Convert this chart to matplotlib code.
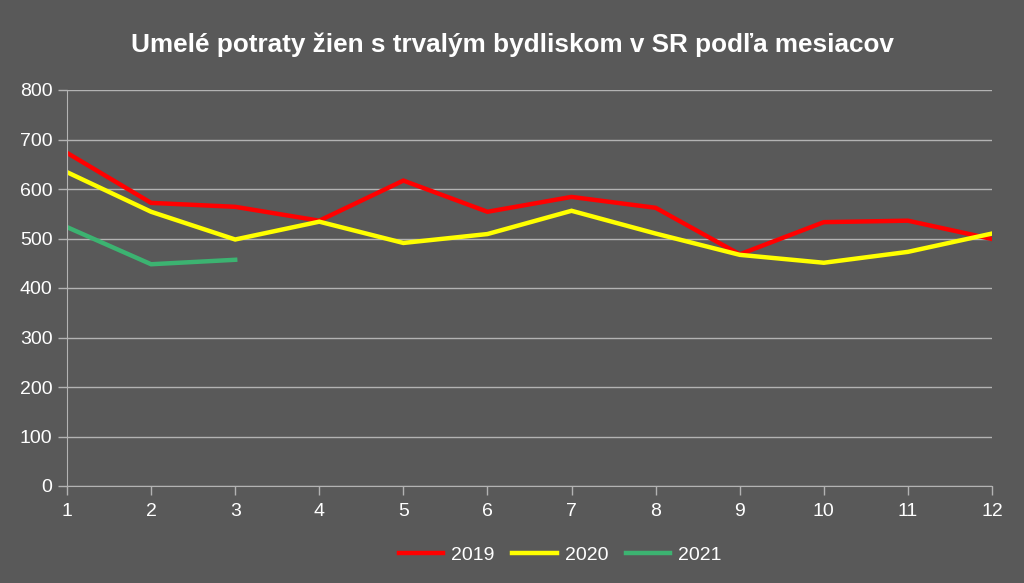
#!/usr/bin/env python3
"""Umelé potraty žien s trvalým bydliskom v SR podľa mesiacov."""

import matplotlib
matplotlib.use("Agg")
import matplotlib.pyplot as plt

months = list(range(1, 13))
y2019 = [673, 572, 564, 536, 617, 554, 584, 562, 468, 533, 536, 499]
y2020 = [634, 554, 498, 534, 491, 509, 556, 510, 467, 451, 473, 510]
months_2021 = [1, 2, 3]
y2021 = [523, 448, 457]

BG = "#595959"
GRID = "#b3b3b3"

plt.rcParams["font.family"] = ["Liberation Sans", "DejaVu Sans"]


def main():
    fig = plt.figure(figsize=(10.24, 5.83), dpi=100, facecolor=BG)
    ax = fig.add_axes([67 / 1024, 1 - 486 / 583, 925 / 1024, 396 / 583])
    ax.set_facecolor(BG)

    ax.plot(months, y2019, color="#ff0000", linewidth=3.2, label="2019",
            solid_joinstyle="miter")
    ax.plot(months, y2020, color="#ffff00", linewidth=3.2, label="2020",
            solid_joinstyle="miter")
    ax.plot(months_2021, y2021, color="#3cb371", linewidth=3.2, label="2021",
            solid_joinstyle="miter")

    ax.set_xlim(1, 12)
    ax.set_ylim(0, 800)
    ax.set_xticks(months)
    ax.set_yticks(range(0, 801, 100))
    ax.grid(axis="y", color=GRID, linewidth=1)
    ax.set_axisbelow(True)

    for side in ("top", "right"):
        ax.spines[side].set_visible(False)
    for side in ("left", "bottom"):
        ax.spines[side].set_color(GRID)
    ax.tick_params(colors="white", labelsize=14, length=6.5, width=1)
    ax.tick_params(axis="x", color=GRID, pad=6)
    ax.tick_params(axis="y", color=GRID, pad=4)

    fig.text(0.5, 1 - 45 / 583, "Umelé potraty žien s trvalým bydliskom v SR podľa mesiacov",
             ha="center", va="center", color="white", fontsize=18.8, fontweight="bold")

    leg = fig.legend(loc="center", bbox_to_anchor=(0.547, 1 - 555 / 583), ncol=3,
                     frameon=False, fontsize=14, handlelength=2.3,
                     columnspacing=0.9, handletextpad=0.4)
    for t in leg.get_texts():
        t.set_color("white")

    fig.savefig("out.png", dpi=100, facecolor=BG)
    plt.close(fig)


if __name__ == "__main__":
    main()
